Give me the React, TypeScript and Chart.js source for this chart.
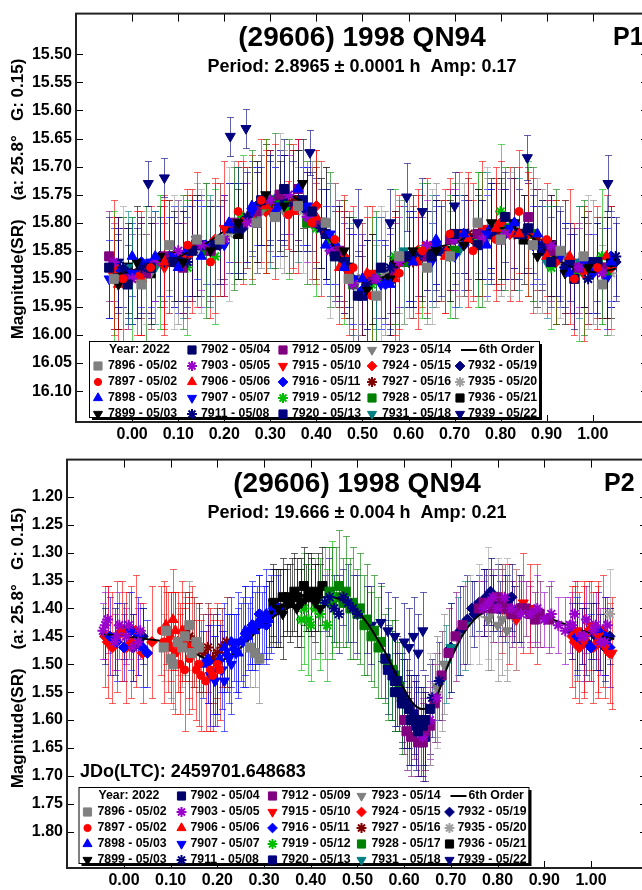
import React, { useEffect, useRef } from 'react';
import { Chart, registerables } from 'chart.js';
import { drawPoint } from 'chart.js/helpers';

Chart.register(...registerables);

const FONT = '"Liberation Sans", Arial, Helvetica, sans-serif';

const X_TICKS = [0.0, 0.1, 0.2, 0.3, 0.4, 0.5, 0.6, 0.7, 0.8, 0.9, 1.0];
const P1_Y_TICKS = [15.5, 15.55, 15.6, 15.65, 15.7, 15.75, 15.8, 15.85, 15.9, 15.95, 16.0, 16.05, 16.1];
const P2_Y_TICKS = [1.2, 1.25, 1.3, 1.35, 1.4, 1.45, 1.5, 1.55, 1.6, 1.65, 1.7, 1.75, 1.8];

const SESSION_LABELS = [
  '7896 - 05/02', '7897 - 05/02', '7898 - 05/03', '7899 - 05/03',
  '7902 - 05/04', '7903 - 05/05', '7906 - 05/06', '7907 - 05/07', '7911 - 05/08',
  '7912 - 05/09', '7915 - 05/10', '7916 - 05/11', '7919 - 05/12', '7920 - 05/13',
  '7923 - 05/14', '7924 - 05/15', '7927 - 05/16', '7928 - 05/17', '7931 - 05/18',
  '7932 - 05/19', '7935 - 05/20', '7936 - 05/21', '7939 - 05/22',
];
const SESSION_COLORS = [
  '#808080', '#ff0000', '#0000ff', '#000000',
  '#00006a', '#9900cc', '#ff0000', '#0000ff', '#000080',
  '#800080', '#ff0000', '#0000ff', '#00bb00', '#000080',
  '#808080', '#ff0000', '#800000', '#008000', '#008080',
  '#000080', '#a0a0a0', '#000000', '#000080',
];
// marker: rect, circle, tri (up), tdown, diamond, star
const SESSION_MARKERS = [
  'rect', 'circle', 'tri', 'tdown',
  'rect', 'star', 'tri', 'tdown', 'star',
  'rect', 'tdown', 'diamond', 'star', 'rect',
  'tdown', 'diamond', 'star', 'rect', 'tdown',
  'diamond', 'star', 'rect', 'tdown',
];

type Pt = [number, number, number]; // phase, magnitude, error

// ---------------- P1 (2.8965 h) ----------------
const P1_7896: Pt[] = [[-0.04, 15.9, 0.07], [0.08, 15.84, 0.08], [0.19, 15.83, 0.07], [0.27, 15.8, 0.09], [0.36, 15.77, 0.07], [0.47, 15.9, 0.08], [0.58, 15.86, 0.1], [0.69, 15.86, 0.08], [0.8, 15.83, 0.1], [0.93, 15.85, 0.08], [1.02, 15.91, 0.07], [0.02, 15.91, 0.09], [0.14, 15.83, 0.1], [0.31, 15.79, 0.09], [0.42, 15.8, 0.1], [0.53, 15.93, 0.09], [0.64, 15.88, 0.1], [0.75, 15.8, 0.09], [0.87, 15.84, 0.1], [0.98, 15.86, 0.09]];
const P1_7897: Pt[] = [[-0.02, 15.9, 0.09], [0.12, 15.84, 0.1], [0.23, 15.78, 0.09], [0.339, 15.786, 0.06], [0.44, 15.83, 0.1], [0.52, 15.93, 0.11], [0.63, 15.85, 0.1], [0.74, 15.85, 0.09], [0.84, 15.78, 0.11], [0.96, 15.9, 0.1], [0.04, 15.88, 0.11], [0.17, 15.87, 0.1], [0.28, 15.76, 0.11], [0.39, 15.8, 0.1], [0.48, 15.88, 0.11], [0.58, 15.89, 0.12], [0.69, 15.82, 0.1], [0.79, 15.83, 0.11], [0.9, 15.83, 0.1], [1.01, 15.88, 0.11]];
const P1_7898: Pt[] = [[0.0, 15.86, 0.07], [0.1, 15.88, 0.08], [0.21, 15.8, 0.07], [0.31, 15.78, 0.08], [0.42, 15.84, 0.07], [0.5, 15.9, 0.08], [0.61, 15.87, 0.08], [0.72, 15.82, 0.07], [0.83, 15.8, 0.08], [0.95, 15.89, 0.07], [1.04, 15.87, 0.08], [-0.04, 15.9, 0.09], [0.05, 15.86, 0.08], [0.15, 15.86, 0.09], [0.26, 15.77, 0.08], [0.36, 15.74, 0.09], [0.46, 15.88, 0.08], [0.56, 15.91, 0.09], [0.66, 15.83, 0.08], [0.77, 15.84, 0.09], [0.88, 15.82, 0.08]];
const P1_7899: Pt[] = [[-0.03, 15.91, 0.08], [0.06, 15.86, 0.09], [0.17, 15.85, 0.08], [0.29, 15.75, 0.09], [0.37, 15.73, 0.08], [0.46, 15.85, 0.09], [0.56, 15.9, 0.1], [0.66, 15.85, 0.09], [0.78, 15.8, 0.08], [0.88, 15.86, 0.09], [0.99, 15.88, 0.08], [0.01, 15.87, 0.1], [0.11, 15.87, 0.09], [0.23, 15.8, 0.1], [0.33, 15.77, 0.09], [0.42, 15.8, 0.1], [0.51, 15.92, 0.09], [0.61, 15.85, 0.1], [0.72, 15.84, 0.09], [0.83, 15.8, 0.1], [0.94, 15.89, 0.09], [1.04, 15.87, 0.1]];
const P1_7902: Pt[] = [[-0.01, 15.91, 0.07], [0.09, 15.87, 0.08], [0.18, 15.84, 0.07], [0.28, 15.76, 0.08], [0.39, 15.78, 0.07], [0.49, 15.93, 0.08], [0.6, 15.86, 0.08], [0.7, 15.82, 0.07], [0.81, 15.79, 0.08], [0.91, 15.87, 0.08], [1.01, 15.87, 0.07], [-0.05, 15.88, 0.09], [0.04, 15.88, 0.08], [0.13, 15.85, 0.09], [0.23, 15.81, 0.08], [0.33, 15.74, 0.09], [0.44, 15.86, 0.08], [0.54, 15.88, 0.09], [0.65, 15.86, 0.08], [0.75, 15.84, 0.09], [0.86, 15.81, 0.08], [0.96, 15.9, 0.09]];
const P1_7903: Pt[] = [[-0.04, 15.87, 0.07], [0.05, 15.87, 0.07], [0.15, 15.84, 0.08], [0.25, 15.8, 0.07], [0.34, 15.75, 0.07], [0.43, 15.85, 0.08], [0.53, 15.9, 0.07], [0.64, 15.84, 0.08], [0.76, 15.83, 0.07], [0.86, 15.81, 0.08], [0.97, 15.88, 0.07], [0.0, 15.9, 0.08], [0.1, 15.85, 0.09], [0.2, 15.83, 0.08], [0.3, 15.76, 0.09], [0.38, 15.79, 0.08], [0.48, 15.91, 0.09], [0.58, 15.87, 0.08], [0.7, 15.83, 0.09], [0.81, 15.82, 0.08], [0.91, 15.84, 0.09], [1.02, 15.89, 0.08]];
const P1_7906: Pt[] = [[0.02, 15.9, 0.1], [0.13, 15.85, 0.11], [0.24, 15.8, 0.1], [0.35, 15.78, 0.11], [0.45, 15.88, 0.1], [0.57, 15.9, 0.11], [0.68, 15.86, 0.1], [0.79, 15.81, 0.11], [0.9, 15.86, 0.1], [1.03, 15.86, 0.11], [-0.03, 15.91, 0.12], [0.07, 15.87, 0.12], [0.18, 15.84, 0.12], [0.29, 15.77, 0.12], [0.4, 15.79, 0.12], [0.51, 15.89, 0.12], [0.62, 15.87, 0.12], [0.73, 15.83, 0.12], [0.84, 15.82, 0.12], [0.95, 15.86, 0.12]];
const P1_7907: Pt[] = [[-0.05, 15.9, 0.07], [0.04, 15.87, 0.08], [0.14, 15.83, 0.07], [0.26, 15.78, 0.08], [0.38, 15.77, 0.07], [0.48, 15.9, 0.08], [0.54, 15.91, 0.08], [0.65, 15.87, 0.07], [0.77, 15.82, 0.08], [0.87, 15.84, 0.07], [0.98, 15.87, 0.08], [0.0, 15.89, 0.09], [0.09, 15.86, 0.09], [0.2, 15.84, 0.09], [0.32, 15.77, 0.09], [0.43, 15.82, 0.09], [0.59, 15.86, 0.09], [0.7, 15.86, 0.09], [0.82, 15.81, 0.09], [0.93, 15.86, 0.09], [1.03, 15.9, 0.09]];
const P1_7911: Pt[] = [[-0.02, 15.88, 0.07], [0.07, 15.87, 0.07], [0.2, 15.83, 0.07], [0.3, 15.76, 0.07], [0.41, 15.81, 0.07], [0.51, 15.91, 0.08], [0.62, 15.86, 0.07], [0.73, 15.83, 0.07], [0.85, 15.82, 0.07], [0.94, 15.88, 0.07], [1.05, 15.86, 0.07], [0.02, 15.88, 0.08], [0.12, 15.87, 0.08], [0.25, 15.79, 0.08], [0.35, 15.77, 0.08], [0.46, 15.87, 0.08], [0.56, 15.88, 0.08], [0.67, 15.85, 0.08], [0.78, 15.82, 0.08], [0.89, 15.84, 0.08], [0.99, 15.9, 0.08]];
const P1_7912: Pt[] = [[-0.05, 15.86, 0.08], [0.03, 15.89, 0.07], [0.11, 15.88, 0.08], [0.22, 15.8, 0.07], [0.32, 15.75, 0.08], [0.4, 15.8, 0.07], [0.52, 15.9, 0.08], [0.63, 15.86, 0.07], [0.75, 15.82, 0.08], [0.86, 15.79, 0.09], [0.97, 15.88, 0.08], [-0.01, 15.9, 0.09], [0.07, 15.86, 0.09], [0.17, 15.85, 0.09], [0.27, 15.78, 0.09], [0.36, 15.74, 0.09], [0.45, 15.85, 0.09], [0.57, 15.89, 0.09], [0.69, 15.83, 0.09], [0.8, 15.83, 0.09], [0.91, 15.85, 0.09], [1.02, 15.88, 0.09]];
const P1_7915: Pt[] = [[0.01, 15.89, 0.11], [0.14, 15.83, 0.12], [0.26, 15.79, 0.11], [0.36, 15.77, 0.12], [0.47, 15.89, 0.11], [0.58, 15.87, 0.12], [0.71, 15.82, 0.11], [0.82, 15.82, 0.12], [0.92, 15.87, 0.11], [-0.04, 15.88, 0.12], [0.07, 15.88, 0.12], [0.2, 15.81, 0.12], [0.31, 15.78, 0.12], [0.41, 15.81, 0.12], [0.52, 15.89, 0.12], [0.64, 15.84, 0.12], [0.76, 15.81, 0.12], [0.87, 15.84, 0.12], [0.98, 15.89, 0.12]];
const P1_7916: Pt[] = [[-0.03, 15.88, 0.07], [0.08, 15.86, 0.07], [0.16, 15.84, 0.07], [0.27, 15.77, 0.07], [0.37, 15.77, 0.07], [0.44, 15.84, 0.07], [0.55, 15.91, 0.07], [0.66, 15.84, 0.07], [0.78, 15.81, 0.07], [0.89, 15.84, 0.07], [1.0, 15.89, 0.07], [0.02, 15.87, 0.08], [0.12, 15.85, 0.08], [0.22, 15.81, 0.08], [0.32, 15.75, 0.08], [0.4, 15.8, 0.08], [0.5, 15.92, 0.08], [0.6, 15.86, 0.08], [0.72, 15.84, 0.08], [0.83, 15.8, 0.08], [0.94, 15.88, 0.08], [1.04, 15.86, 0.08]];
const P1_7919: Pt[] = [[0.0, 15.9, 0.11], [0.12, 15.88, 0.12], [0.24, 15.79, 0.11], [0.34, 15.78, 0.12], [0.46, 15.87, 0.11], [0.57, 15.86, 0.12], [0.69, 15.86, 0.11], [0.8, 15.78, 0.12], [0.91, 15.88, 0.11], [1.02, 15.86, 0.12], [-0.04, 15.9, 0.12], [0.06, 15.87, 0.12], [0.18, 15.86, 0.12], [0.29, 15.77, 0.12], [0.4, 15.81, 0.12], [0.52, 15.91, 0.12], [0.63, 15.85, 0.12], [0.75, 15.83, 0.12], [0.86, 15.81, 0.12], [0.97, 15.89, 0.12]];
const P1_7920: Pt[] = [[-0.01, 15.89, 0.08], [0.1, 15.87, 0.07], [0.21, 15.81, 0.08], [0.33, 15.75, 0.07], [0.42, 15.82, 0.08], [0.5, 15.93, 0.07], [0.61, 15.86, 0.08], [0.72, 15.82, 0.07], [0.84, 15.82, 0.08], [0.95, 15.87, 0.07], [1.04, 15.87, 0.08], [0.04, 15.88, 0.09], [0.15, 15.84, 0.09], [0.27, 15.8, 0.09], [0.37, 15.76, 0.09], [0.46, 15.87, 0.09], [0.56, 15.9, 0.09], [0.66, 15.85, 0.09], [0.78, 15.82, 0.09], [0.89, 15.85, 0.09], [0.99, 15.87, 0.09]];
const P1_7923: Pt[] = [[0.04, 15.89, 0.1], [0.16, 15.84, 0.11], [0.28, 15.78, 0.1], [0.39, 15.8, 0.11], [0.49, 15.9, 0.1], [0.6, 15.86, 0.11], [0.72, 15.83, 0.1], [0.83, 15.81, 0.11], [0.94, 15.86, 0.1], [-0.02, 15.9, 0.11], [0.1, 15.87, 0.11], [0.22, 15.8, 0.11], [0.33, 15.78, 0.11], [0.44, 15.84, 0.11], [0.55, 15.89, 0.11], [0.66, 15.84, 0.11], [0.77, 15.83, 0.11], [0.89, 15.85, 0.11], [1.0, 15.87, 0.11]];
const P1_7924: Pt[] = [[-0.04, 15.89, 0.1], [0.07, 15.87, 0.11], [0.18, 15.83, 0.1], [0.29, 15.78, 0.11], [0.4, 15.77, 0.1], [0.51, 15.9, 0.11], [0.62, 15.85, 0.11], [0.74, 15.83, 0.1], [0.86, 15.82, 0.11], [0.99, 15.88, 0.1], [0.02, 15.89, 0.11], [0.12, 15.86, 0.11], [0.24, 15.8, 0.11], [0.35, 15.77, 0.11], [0.46, 15.86, 0.11], [0.57, 15.89, 0.11], [0.68, 15.85, 0.11], [0.8, 15.8, 0.11], [0.92, 15.87, 0.11], [1.04, 15.88, 0.11]];
const P1_7927: Pt[] = [[0.02, 15.88, 0.09], [0.13, 15.84, 0.09], [0.25, 15.79, 0.09], [0.35, 15.76, 0.09], [0.45, 15.86, 0.09], [0.56, 15.89, 0.09], [0.67, 15.85, 0.09], [0.79, 15.82, 0.09], [0.88, 15.83, 0.09], [1.01, 15.88, 0.09], [-0.03, 15.89, 0.1], [0.08, 15.86, 0.1], [0.19, 15.83, 0.1], [0.3, 15.77, 0.1], [0.4, 15.8, 0.1], [0.5, 15.9, 0.1], [0.61, 15.87, 0.1], [0.73, 15.82, 0.1], [0.83, 15.82, 0.1], [0.94, 15.86, 0.1]];
const P1_7928: Pt[] = [[-0.02, 15.9, 0.11], [0.11, 15.87, 0.12], [0.22, 15.81, 0.11], [0.31, 15.76, 0.12], [0.38, 15.8, 0.11], [0.48, 15.91, 0.12], [0.59, 15.87, 0.11], [0.7, 15.85, 0.12], [0.81, 15.81, 0.11], [0.92, 15.86, 0.12], [1.03, 15.89, 0.11], [0.03, 15.89, 0.12], [0.16, 15.85, 0.12], [0.26, 15.79, 0.12], [0.34, 15.77, 0.12], [0.43, 15.83, 0.12], [0.53, 15.9, 0.12], [0.64, 15.85, 0.12], [0.76, 15.83, 0.12], [0.87, 15.82, 0.12], [0.98, 15.88, 0.12]];
const P1_7931: Pt[] = [[0.05, 15.88, 0.1], [0.17, 15.85, 0.1], [0.3, 15.78, 0.1], [0.43, 15.83, 0.1], [0.53, 15.89, 0.1], [0.65, 15.85, 0.1], [0.77, 15.81, 0.1], [0.9, 15.87, 0.1], [-0.01, 15.88, 0.1], [0.11, 15.87, 0.1], [0.23, 15.8, 0.1], [0.36, 15.77, 0.1], [0.48, 15.9, 0.1], [0.59, 15.85, 0.1], [0.71, 15.85, 0.1], [0.84, 15.82, 0.1], [0.97, 15.87, 0.1]];
const P1_7932: Pt[] = [[-0.03, 15.89, 0.07], [0.06, 15.86, 0.07], [0.19, 15.84, 0.07], [0.28, 15.77, 0.07], [0.38, 15.78, 0.07], [0.47, 15.88, 0.07], [0.55, 15.9, 0.07], [0.64, 15.85, 0.07], [0.76, 15.83, 0.07], [0.87, 15.82, 0.07], [0.96, 15.89, 0.07], [1.05, 15.87, 0.07], [0.01, 15.89, 0.08], [0.11, 15.86, 0.08], [0.24, 15.81, 0.08], [0.33, 15.76, 0.08], [0.42, 15.82, 0.08], [0.51, 15.91, 0.08], [0.6, 15.87, 0.08], [0.7, 15.83, 0.08], [0.81, 15.82, 0.08], [0.92, 15.85, 0.08], [1.01, 15.88, 0.08]];
const P1_7935: Pt[] = [[0.03, 15.88, 0.1], [0.15, 15.85, 0.11], [0.27, 15.79, 0.1], [0.37, 15.78, 0.11], [0.49, 15.9, 0.1], [0.59, 15.87, 0.11], [0.71, 15.83, 0.1], [0.82, 15.82, 0.11], [0.93, 15.87, 0.1], [1.04, 15.89, 0.11], [-0.02, 15.89, 0.12], [0.09, 15.87, 0.12], [0.21, 15.82, 0.12], [0.32, 15.76, 0.12], [0.43, 15.85, 0.12], [0.54, 15.89, 0.12], [0.65, 15.86, 0.12], [0.77, 15.82, 0.12], [0.88, 15.84, 0.12], [0.99, 15.87, 0.12]];
const P1_7936: Pt[] = [[-0.01, 15.88, 0.08], [0.09, 15.86, 0.08], [0.23, 15.82, 0.08], [0.32, 15.77, 0.08], [0.41, 15.8, 0.08], [0.52, 15.9, 0.08], [0.63, 15.86, 0.08], [0.75, 15.82, 0.08], [0.85, 15.83, 0.08], [0.98, 15.87, 0.08], [0.04, 15.89, 0.09], [0.14, 15.84, 0.09], [0.27, 15.78, 0.09], [0.36, 15.76, 0.09], [0.47, 15.88, 0.09], [0.57, 15.87, 0.09], [0.69, 15.85, 0.09], [0.8, 15.81, 0.09], [0.91, 15.84, 0.09], [1.03, 15.88, 0.09]];
const P1_7939: Pt[] = [[0.035, 15.73, 0.04], [0.07, 15.72, 0.035], [0.213, 15.646, 0.035], [0.247, 15.632, 0.035], [0.386, 15.675, 0.04], [0.49, 15.8, 0.06], [0.56, 15.8, 0.06], [0.596, 15.754, 0.06], [0.63, 15.78, 0.06], [0.7, 15.77, 0.06], [0.858, 15.684, 0.04], [1.033, 15.73, 0.05], [-0.03, 15.87, 0.08], [0.13, 15.85, 0.08], [0.3, 15.76, 0.08], [0.45, 15.85, 0.08], [0.66, 15.84, 0.08], [0.78, 15.81, 0.08], [0.93, 15.86, 0.08]];

const P1_FIT_PHASE = [-0.05, 0.0, 0.05, 0.1, 0.15, 0.2, 0.25, 0.3, 0.35, 0.4, 0.45, 0.5, 0.55, 0.6, 0.65, 0.7, 0.75, 0.8, 0.85, 0.9, 0.95, 1.0, 1.05];
const P1_FIT_MAG = [15.895, 15.885, 15.872, 15.86, 15.842, 15.815, 15.785, 15.762, 15.755, 15.785, 15.86, 15.905, 15.895, 15.865, 15.848, 15.835, 15.82, 15.81, 15.815, 15.85, 15.878, 15.888, 15.882];

// ---------------- P2 (19.666 h) ----------------
const P2_7896: Pt[] = [[0.085, 1.47, 0.06], [0.1, 1.49, 0.07], [0.115, 1.46, 0.06], [0.13, 1.45, 0.07], [0.145, 1.48, 0.06], [0.16, 1.47, 0.07], [0.28, 1.48, 0.06], [0.09, 1.44, 0.07], [0.105, 1.5, 0.08], [0.125, 1.47, 0.07], [0.14, 1.43, 0.08], [0.155, 1.46, 0.07], [0.27, 1.47, 0.07], [0.29, 1.49, 0.08]];
const P2_7897: Pt[] = [[0.08, 1.44, 0.08], [0.1, 1.47, 0.1], [0.12, 1.5, 0.09], [0.14, 1.49, 0.1], [0.155, 1.51, 0.09], [0.165, 1.52, 0.1], [0.175, 1.53, 0.09], [0.19, 1.52, 0.1], [0.205, 1.51, 0.09], [0.085, 1.46, 0.11], [0.11, 1.48, 0.11], [0.13, 1.51, 0.11], [0.145, 1.47, 0.11], [0.16, 1.5, 0.11], [0.185, 1.51, 0.11], [0.2, 1.5, 0.11]];
const P2_7898: Pt[] = [[0.17, 1.5, 0.06], [0.19, 1.52, 0.07], [0.205, 1.49, 0.06], [0.22, 1.48, 0.07], [0.235, 1.47, 0.06], [0.25, 1.46, 0.07], [0.265, 1.45, 0.06], [0.28, 1.44, 0.07], [0.295, 1.43, 0.06], [0.31, 1.42, 0.07], [0.18, 1.49, 0.08], [0.2, 1.51, 0.08], [0.215, 1.47, 0.08], [0.23, 1.46, 0.08], [0.245, 1.48, 0.08], [0.26, 1.44, 0.08], [0.275, 1.43, 0.08], [0.29, 1.42, 0.08], [0.305, 1.41, 0.08]];
const P2_7899: Pt[] = [[0.31, 1.41, 0.06], [0.33, 1.4, 0.07], [0.35, 1.39, 0.06], [0.37, 1.4, 0.07], [0.39, 1.38, 0.06], [0.41, 1.39, 0.07], [0.32, 1.39, 0.07], [0.34, 1.41, 0.08], [0.36, 1.38, 0.07], [0.38, 1.39, 0.08], [0.4, 1.37, 0.07], [0.42, 1.4, 0.08]];
const P2_7902: Pt[] = [[0.58, 1.55, 0.07], [0.595, 1.56, 0.08], [0.61, 1.58, 0.07], [0.625, 1.6, 0.08], [0.64, 1.61, 0.07], [0.655, 1.58, 0.08], [0.585, 1.53, 0.08], [0.6, 1.57, 0.08], [0.615, 1.6, 0.08], [0.63, 1.62, 0.08], [0.645, 1.6, 0.08]];
const P2_7903: Pt[] = [[-0.045, 1.44, 0.05], [-0.035, 1.42, 0.06], [-0.02, 1.46, 0.05], [-0.01, 1.43, 0.06], [0.005, 1.45, 0.05], [0.02, 1.47, 0.06], [0.035, 1.44, 0.05], [0.77, 1.4, 0.05], [0.79, 1.38, 0.05], [0.83, 1.4, 0.05], [0.87, 1.41, 0.05], [0.9, 1.42, 0.05], [0.93, 1.43, 0.05], [0.955, 1.43, 0.05], [0.965, 1.41, 0.06], [0.98, 1.45, 0.05], [0.99, 1.42, 0.06], [1.005, 1.44, 0.05], [1.02, 1.46, 0.06], [1.035, 1.43, 0.05],
  [0.78, 1.39, 0.06], [0.8, 1.4, 0.06], [0.815, 1.38, 0.06], [0.85, 1.41, 0.06], [0.885, 1.4, 0.06], [0.915, 1.41, 0.06], [0.945, 1.44, 0.06], [-0.04, 1.43, 0.06], [-0.015, 1.45, 0.06], [0.01, 1.43, 0.06], [0.03, 1.46, 0.06], [0.96, 1.43, 0.06], [0.985, 1.45, 0.06], [1.01, 1.43, 0.06], [1.03, 1.46, 0.06], [0.64, 1.63, 0.07], [0.655, 1.6, 0.07], [0.67, 1.56, 0.08]];
const P2_7906: Pt[] = [[0.09, 1.43, 0.07], [0.1, 1.45, 0.08], [0.11, 1.44, 0.07], [0.12, 1.47, 0.08], [0.13, 1.46, 0.07], [0.095, 1.46, 0.09], [0.105, 1.42, 0.09], [0.115, 1.46, 0.09], [0.125, 1.44, 0.09], [0.14, 1.47, 0.09]];
const P2_7907: Pt[] = [[0.18, 1.5, 0.07], [0.195, 1.53, 0.08], [0.21, 1.51, 0.07], [0.225, 1.49, 0.08], [0.24, 1.48, 0.07], [0.255, 1.46, 0.08], [0.185, 1.52, 0.09], [0.2, 1.5, 0.09], [0.215, 1.53, 0.09], [0.23, 1.5, 0.09], [0.245, 1.46, 0.09], [0.26, 1.45, 0.09]];
const P2_7911: Pt[] = [[0.43, 1.39, 0.05], [0.45, 1.4, 0.06], [0.47, 1.38, 0.05], [0.49, 1.4, 0.06], [0.44, 1.38, 0.07], [0.46, 1.41, 0.07], [0.48, 1.39, 0.07], [0.5, 1.41, 0.07], [0.66, 1.56, 0.07], [0.675, 1.53, 0.07]];
const P2_7912: Pt[] = [[0.6, 1.6, 0.06], [0.615, 1.63, 0.07], [0.63, 1.64, 0.06], [0.645, 1.62, 0.07], [0.76, 1.4, 0.05], [0.78, 1.39, 0.05], [0.8, 1.38, 0.05], [0.82, 1.4, 0.05], [0.84, 1.41, 0.05], [0.86, 1.4, 0.05], [0.88, 1.42, 0.05],
  [0.605, 1.62, 0.07], [0.62, 1.6, 0.07], [0.64, 1.64, 0.07], [0.655, 1.61, 0.07], [0.77, 1.39, 0.06], [0.79, 1.4, 0.06], [0.81, 1.39, 0.06], [0.83, 1.41, 0.06], [0.85, 1.4, 0.06], [0.87, 1.41, 0.06], [0.89, 1.41, 0.06], [0.91, 1.42, 0.06],
  [0.665, 1.57, 0.07], [0.68, 1.52, 0.08], [0.695, 1.48, 0.08], [0.71, 1.45, 0.08], [0.725, 1.43, 0.07]];
const P2_7915: Pt[] = [[0.81, 1.4, 0.08], [0.84, 1.42, 0.09], [0.87, 1.4, 0.08], [0.97, 1.44, 0.09], [1.0, 1.43, 0.08], [1.03, 1.47, 0.09], [0.825, 1.41, 0.09], [0.855, 1.39, 0.09], [0.885, 1.41, 0.09], [0.985, 1.46, 0.1], [1.015, 1.45, 0.1], [1.045, 1.48, 0.1]];
const P2_7916: Pt[] = [[-0.03, 1.45, 0.07], [0.0, 1.47, 0.06], [0.03, 1.45, 0.07], [0.05, 1.48, 0.06], [0.27, 1.44, 0.06], [0.285, 1.43, 0.07], [0.3, 1.42, 0.06], [0.315, 1.41, 0.07], [0.33, 1.4, 0.06], [0.97, 1.45, 0.07], [1.0, 1.47, 0.06], [1.03, 1.45, 0.07],
  [-0.015, 1.46, 0.07], [0.015, 1.44, 0.07], [0.04, 1.47, 0.07], [0.275, 1.43, 0.07], [0.29, 1.41, 0.07], [0.305, 1.43, 0.07], [0.32, 1.4, 0.07], [0.985, 1.46, 0.07], [1.015, 1.44, 0.07], [1.04, 1.47, 0.07]];
const P2_7919: Pt[] = [[0.38, 1.42, 0.09], [0.4, 1.43, 0.1], [0.41, 1.4, 0.09], [0.43, 1.39, 0.1], [0.385, 1.4, 0.1], [0.395, 1.42, 0.1], [0.42, 1.41, 0.1], [0.435, 1.43, 0.1], [0.445, 1.38, 0.1]];
const P2_7920: Pt[] = [[0.56, 1.49, 0.07], [0.575, 1.52, 0.08], [0.59, 1.55, 0.07], [0.605, 1.57, 0.08], [0.62, 1.59, 0.07], [0.635, 1.62, 0.08], [0.565, 1.51, 0.08], [0.58, 1.53, 0.08], [0.595, 1.57, 0.08], [0.61, 1.6, 0.08], [0.625, 1.61, 0.08], [0.645, 1.63, 0.08]];
const P2_7923: Pt[] = [[0.665, 1.56, 0.08], [0.68, 1.53, 0.09], [0.78, 1.42, 0.09], [0.8, 1.43, 0.1], [0.67, 1.54, 0.09], [0.685, 1.5, 0.09], [0.785, 1.41, 0.1], [0.81, 1.42, 0.1], [0.82, 1.44, 0.09]];
const P2_7924: Pt[] = [[-0.04, 1.45, 0.09], [-0.025, 1.47, 0.1], [-0.005, 1.44, 0.09], [0.015, 1.46, 0.1], [0.04, 1.48, 0.09], [0.96, 1.45, 0.09], [0.975, 1.47, 0.1], [0.995, 1.44, 0.09], [1.015, 1.46, 0.1], [1.04, 1.48, 0.09],
  [-0.035, 1.46, 0.1], [-0.015, 1.45, 0.1], [0.005, 1.47, 0.1], [0.025, 1.44, 0.1], [0.965, 1.46, 0.1], [0.985, 1.45, 0.1], [1.005, 1.47, 0.1], [1.025, 1.44, 0.1], [0.06, 1.46, 0.1]];
const P2_7927: Pt[] = [[0.13, 1.44, 0.07], [0.15, 1.46, 0.08], [0.17, 1.48, 0.07], [0.19, 1.49, 0.08], [0.21, 1.47, 0.07], [0.14, 1.45, 0.08], [0.16, 1.47, 0.08], [0.18, 1.47, 0.08], [0.2, 1.48, 0.08], [0.22, 1.46, 0.08]];
const P2_7928: Pt[] = [[0.44, 1.37, 0.08], [0.455, 1.38, 0.09], [0.47, 1.39, 0.08], [0.485, 1.4, 0.09], [0.5, 1.41, 0.08], [0.515, 1.43, 0.09], [0.53, 1.45, 0.08], [0.545, 1.47, 0.09], [0.56, 1.49, 0.08], [0.575, 1.51, 0.09], [0.59, 1.54, 0.08],
  [0.445, 1.39, 0.1], [0.46, 1.36, 0.1], [0.475, 1.37, 0.1], [0.49, 1.39, 0.1], [0.505, 1.4, 0.1], [0.52, 1.42, 0.1], [0.535, 1.44, 0.1], [0.55, 1.46, 0.1], [0.565, 1.5, 0.1], [0.58, 1.52, 0.1], [0.595, 1.56, 0.1]];
const P2_7931: Pt[] = [[0.69, 1.5, 0.07], [0.7, 1.47, 0.08], [0.715, 1.45, 0.07], [0.73, 1.43, 0.08]];
const P2_7932: Pt[] = [[-0.04, 1.45, 0.05], [0.0, 1.44, 0.05], [0.04, 1.45, 0.05], [0.745, 1.4, 0.05], [0.76, 1.39, 0.05], [0.775, 1.38, 0.05], [0.79, 1.39, 0.05], [0.805, 1.4, 0.05], [0.82, 1.39, 0.05], [0.835, 1.41, 0.05], [0.96, 1.44, 0.05], [0.98, 1.45, 0.05], [1.0, 1.44, 0.05], [1.02, 1.46, 0.05], [1.04, 1.45, 0.05],
  [0.75, 1.41, 0.06], [0.77, 1.39, 0.06], [0.785, 1.37, 0.06], [0.8, 1.38, 0.06], [0.815, 1.4, 0.06], [0.83, 1.38, 0.06], [0.845, 1.4, 0.06], [-0.02, 1.46, 0.06], [0.02, 1.47, 0.06], [0.97, 1.45, 0.06], [0.99, 1.46, 0.06], [1.01, 1.45, 0.06], [1.03, 1.47, 0.06],
  [0.7, 1.47, 0.08], [0.72, 1.44, 0.08], [0.735, 1.42, 0.08]];
const P2_7935: Pt[] = [[0.655, 1.58, 0.1], [0.67, 1.55, 0.1], [0.74, 1.42, 0.08], [0.76, 1.41, 0.09], [0.78, 1.39, 0.1], [0.8, 1.4, 0.09], [0.82, 1.41, 0.1], [0.84, 1.42, 0.09], [1.04, 1.41, 0.08]];
const P2_7936: Pt[] = [[0.32, 1.39, 0.06], [0.335, 1.4, 0.07], [0.35, 1.38, 0.06], [0.365, 1.37, 0.07], [0.38, 1.39, 0.06], [0.395, 1.37, 0.07], [0.41, 1.38, 0.06], [0.425, 1.36, 0.07], [0.325, 1.4, 0.07], [0.34, 1.38, 0.07], [0.355, 1.39, 0.07], [0.37, 1.38, 0.07], [0.385, 1.36, 0.07], [0.4, 1.38, 0.07], [0.415, 1.37, 0.07]];
const P2_7939: Pt[] = [[0.52, 1.42, 0.06], [0.55, 1.425, 0.07], [0.58, 1.45, 0.07], [0.6, 1.46, 0.07], [0.63, 1.48, 0.07], [0.64, 1.44, 0.07], [0.53, 1.43, 0.07], [0.565, 1.44, 0.07], [0.61, 1.47, 0.07], [0.62, 1.45, 0.07]];

const P2_FIT_PHASE = [-0.05, 0.0, 0.05, 0.1, 0.15, 0.2, 0.25, 0.3, 0.35, 0.4, 0.45, 0.5, 0.55, 0.6, 0.63, 0.66, 0.7, 0.75, 0.8, 0.85, 0.9, 0.95, 1.0, 1.05];
const P2_FIT_MAG = [1.445, 1.45, 1.455, 1.462, 1.48, 1.495, 1.47, 1.428, 1.4, 1.385, 1.38, 1.405, 1.465, 1.545, 1.578, 1.572, 1.49, 1.42, 1.4, 1.405, 1.415, 1.43, 1.445, 1.455];

const P1_SESSIONS = [P1_7896, P1_7897, P1_7898, P1_7899, P1_7902, P1_7903, P1_7906, P1_7907, P1_7911, P1_7912, P1_7915, P1_7916, P1_7919, P1_7920, P1_7923, P1_7924, P1_7927, P1_7928, P1_7931, P1_7932, P1_7935, P1_7936, P1_7939];
const P2_SESSIONS = [P2_7896, P2_7897, P2_7898, P2_7899, P2_7902, P2_7903, P2_7906, P2_7907, P2_7911, P2_7912, P2_7915, P2_7916, P2_7919, P2_7920, P2_7923, P2_7924, P2_7927, P2_7928, P2_7931, P2_7932, P2_7935, P2_7936, P2_7939];

interface PanelCfg {
  sessions: Pt[][];
  fitPhase: number[];
  fitMag: number[];
  yMin: number;
  yMax: number;
  yTicks: number[];
  canvasH: number;
  chartLeft: number;
  chartRight: number;
  chartTop: number;
  chartBottom: number;
  legendLeft: number;
  yTitleCenter: number;
  title: string;
  subtitle: string;
  tag: string;
  jdo?: string;
}

const CANVAS_W = 660;

function markerOpts(m: string) {
  switch (m) {
    case 'rect': return { pointStyle: 'rect', rotation: 0, radius: 6.4, borderWidth: 1 };
    case 'circle': return { pointStyle: 'circle', rotation: 0, radius: 4, borderWidth: 1 };
    case 'tri': return { pointStyle: 'triangle', rotation: 0, radius: 5.8, borderWidth: 1 };
    case 'tdown': return { pointStyle: 'triangle', rotation: 180, radius: 5.8, borderWidth: 1 };
    case 'diamond': return { pointStyle: 'rectRot', rotation: 0, radius: 5.4, borderWidth: 1 };
    default: return { pointStyle: 'star', rotation: 0, radius: 5.5, borderWidth: 2 };
  }
}

const errorBarsPlugin = {
  id: 'errorBars',
  beforeDatasetsDraw(chart: any) {
    const { ctx, chartArea, scales } = chart;
    const xs = scales.x;
    const ys = scales.y;
    ctx.save();
    ctx.beginPath();
    ctx.rect(chartArea.left, chartArea.top, chartArea.right - chartArea.left, chartArea.bottom - chartArea.top);
    ctx.clip();
    ctx.lineWidth = 1;
    ctx.globalAlpha = 0.62;
    chart.data.datasets.forEach((ds: any) => {
      if (!ds.errs) return;
      ctx.strokeStyle = ds.errColor;
      ds.data.forEach((d: any, j: number) => {
        const px = Math.round(xs.getPixelForValue(d.x)) + 0.5;
        const y1 = Math.round(ys.getPixelForValue(d.y - ds.errs[j])) + 0.5;
        const y2 = Math.round(ys.getPixelForValue(d.y + ds.errs[j])) + 0.5;
        ctx.beginPath();
        ctx.moveTo(px, y1); ctx.lineTo(px, y2);
        ctx.moveTo(px - 3.5, y1); ctx.lineTo(px + 3.5, y1);
        ctx.moveTo(px - 3.5, y2); ctx.lineTo(px + 3.5, y2);
        ctx.stroke();
      });
    });
    ctx.restore();
  },
};

function legendSlot(i: number): [number, number] {
  if (i < 4) return [0, i + 1];
  if (i < 9) return [1, i - 4];
  if (i < 14) return [2, i - 9];
  if (i < 19) return [3, i - 14];
  return [4, i - 18];
}

const LEG_MARK_X = [9, 103, 194, 283, 371];
const LEG_TEXT_X = [19, 112, 203, 293, 379];

function makeDecorPlugin(p: PanelCfg) {
  return {
    id: 'decor',
    afterDraw(chart: any) {
      const { ctx, chartArea, scales } = chart;
      const xs = scales.x;
      const ys = scales.y;
      const L = chartArea.left, R = chartArea.right, T = chartArea.top, B = chartArea.bottom;
      ctx.save();
      ctx.strokeStyle = '#000';
      ctx.lineWidth = 1;
      ctx.beginPath();
      X_TICKS.forEach((v) => {
        const px = Math.round(xs.getPixelForValue(v)) + 0.5;
        ctx.moveTo(px, T); ctx.lineTo(px, T + 8);
        ctx.moveTo(px, B); ctx.lineTo(px, B - 7);
      });
      p.yTicks.forEach((v) => {
        const py = Math.round(ys.getPixelForValue(v)) + 0.5;
        ctx.moveTo(L, py); ctx.lineTo(L + 7, py);
        ctx.moveTo(R, py); ctx.lineTo(R - 7, py);
      });
      ctx.stroke();
      ctx.lineWidth = 2;
      ctx.strokeStyle = '#222';
      ctx.strokeRect(L, T, R - L, B - T);

      ctx.fillStyle = '#000';
      ctx.textBaseline = 'alphabetic';
      ctx.textAlign = 'center';
      ctx.font = `bold 28px ${FONT}`;
      ctx.fillText(p.title, (L + R) / 2, 46);
      ctx.font = `bold 18px ${FONT}`;
      ctx.fillText(p.subtitle, (L + R) / 2, 72);
      ctx.textAlign = 'left';
      ctx.font = `bold 25px ${FONT}`;
      ctx.fillText(p.tag, L + 537, 45);
      if (p.jdo) {
        ctx.font = `bold 18px ${FONT}`;
        ctx.fillText(p.jdo, L + 13, 331);
      }
      ctx.save();
      ctx.translate(23, p.yTitleCenter);
      ctx.rotate(-Math.PI / 2);
      ctx.textAlign = 'center';
      ctx.font = `bold 17px ${FONT}`;
      ctx.fillText('Magnitude(SR)    (a: 25.8°   G: 0.15)', 0, 0);
      ctx.restore();

      const LX = p.legendLeft, LY = 341, LW = 450, LH = 76;
      ctx.fillStyle = '#000';
      ctx.fillRect(LX + 3, LY + 3, LW, LH);
      ctx.fillStyle = '#fff';
      ctx.fillRect(LX, LY, LW, LH);
      ctx.lineWidth = 1;
      ctx.strokeStyle = '#000';
      ctx.strokeRect(LX + 0.5, LY + 0.5, LW, LH);
      const rowY = (r: number) => LY + 9 + r * 16;
      ctx.font = `bold 12.3px ${FONT}`;
      ctx.textBaseline = 'middle';
      ctx.textAlign = 'left';
      ctx.fillStyle = '#000';
      ctx.fillText('Year: 2022', LX + 20, rowY(0));
      ctx.lineWidth = 2;
      ctx.beginPath();
      ctx.moveTo(LX + 372, rowY(0)); ctx.lineTo(LX + 388, rowY(0));
      ctx.stroke();
      ctx.fillText('6th Order', LX + 390, rowY(0));
      SESSION_LABELS.forEach((lab, i) => {
        const [c, r] = legendSlot(i);
        const m = markerOpts(SESSION_MARKERS[i]);
        ctx.fillStyle = SESSION_COLORS[i];
        ctx.strokeStyle = SESSION_COLORS[i];
        ctx.lineWidth = m.borderWidth;
        drawPoint(ctx, { pointStyle: m.pointStyle, rotation: m.rotation, radius: m.radius * 0.9, borderWidth: m.borderWidth } as any, LX + LEG_MARK_X[c], rowY(r));
        ctx.fillStyle = '#000';
        ctx.fillText(lab, LX + LEG_TEXT_X[c], rowY(r));
      });
      ctx.restore();
    },
  };
}

function makeConfig(p: PanelCfg): any {
  const sessionSets = p.sessions.map((pts, i) => {
    const m = markerOpts(SESSION_MARKERS[i]);
    return {
      label: SESSION_LABELS[i],
      data: pts.map((q) => ({ x: q[0], y: q[1] })),
      errs: pts.map((q) => q[2]),
      errColor: SESSION_COLORS[i],
      showLine: false,
      pointStyle: m.pointStyle,
      pointRotation: m.rotation,
      pointRadius: m.radius,
      pointHoverRadius: m.radius,
      pointBorderWidth: m.borderWidth,
      pointBackgroundColor: SESSION_COLORS[i],
      pointBorderColor: SESSION_COLORS[i],
    };
  });
  const fitSet = {
    label: '6th Order',
    data: p.fitPhase.map((ph, i) => ({ x: ph, y: p.fitMag[i] })),
    showLine: true,
    borderColor: '#000',
    borderWidth: 2,
    pointRadius: 0,
    tension: 0.4,
    fill: false,
  };
  const datasets: any[] = [...sessionSets.slice(0, 11), fitSet, ...sessionSets.slice(11)];
  return {
    type: 'scatter',
    data: { datasets },
    options: {
      animation: false,
      responsive: false,
      devicePixelRatio: 1,
      events: [],
      layout: { padding: { top: p.chartTop, right: CANVAS_W - p.chartRight, left: 0, bottom: 0 } },
      plugins: { legend: { display: false }, tooltip: { enabled: false }, title: { display: false } },
      scales: {
        x: {
          type: 'linear',
          min: -0.122,
          max: 1.12,
          grid: { display: false, drawTicks: false },
          border: { display: false },
          afterBuildTicks: (s: any) => { s.ticks = X_TICKS.map((v) => ({ value: v })); },
          afterFit: (s: any) => { s.height = p.canvasH - p.chartBottom; },
          ticks: {
            autoSkip: false,
            maxRotation: 0,
            padding: 3,
            color: '#000',
            font: { family: FONT, size: 16, weight: 'bold' },
            callback: (v: any) => Number(v).toFixed(2),
          },
        },
        y: {
          type: 'linear',
          reverse: true,
          min: p.yMin,
          max: p.yMax,
          grid: { display: false, drawTicks: false },
          border: { display: false },
          afterBuildTicks: (s: any) => { s.ticks = p.yTicks.map((v) => ({ value: v })); },
          afterFit: (s: any) => { s.width = p.chartLeft; },
          ticks: {
            autoSkip: false,
            padding: 4,
            color: '#000',
            font: { family: FONT, size: 16, weight: 'bold' },
            callback: (v: any) => Number(v).toFixed(2),
          },
        },
      },
    },
    plugins: [errorBarsPlugin, makeDecorPlugin(p)],
  };
}

const TOP_PANEL: PanelCfg = {
  sessions: P1_SESSIONS,
  fitPhase: P1_FIT_PHASE,
  fitMag: P1_FIT_MAG,
  yMin: 15.4275,
  yMax: 16.155,
  yTicks: P1_Y_TICKS,
  canvasH: 446,
  chartLeft: 76,
  chartRight: 648,
  chartTop: 7,
  chartBottom: 422,
  legendLeft: 89,
  yTitleCenter: 199,
  title: '(29606) 1998 QN94',
  subtitle: 'Period: 2.8965 ± 0.0001 h  Amp: 0.17',
  tag: 'P1',
};

const BOTTOM_PANEL: PanelCfg = {
  sessions: P2_SESSIONS,
  fitPhase: P2_FIT_PHASE,
  fitMag: P2_FIT_MAG,
  yMin: 1.1334,
  yMax: 1.865,
  yTicks: P2_Y_TICKS,
  canvasH: 444,
  chartLeft: 67,
  chartRight: 647,
  chartTop: 8,
  chartBottom: 422,
  legendLeft: 78.5,
  yTitleCenter: 202,
  title: '(29606) 1998 QN94',
  subtitle: 'Period: 19.666 ± 0.004 h  Amp: 0.21',
  tag: 'P2',
  jdo: 'JDo(LTC): 2459701.648683',
};

export default function App() {
  const topRef = useRef<HTMLCanvasElement>(null);
  const botRef = useRef<HTMLCanvasElement>(null);
  useEffect(() => {
    const c1 = new Chart(topRef.current as HTMLCanvasElement, makeConfig(TOP_PANEL));
    const c2 = new Chart(botRef.current as HTMLCanvasElement, makeConfig(BOTTOM_PANEL));
    return () => {
      c1.destroy();
      c2.destroy();
    };
  }, []);
  return (
    <div style={{ position: 'absolute', left: 0, top: 0, width: 642, height: 890, overflow: 'hidden', background: '#fff' }}>
      <canvas ref={topRef} width={CANVAS_W} height={446} style={{ position: 'absolute', left: 0, top: 0, width: CANVAS_W, height: 446 }} />
      <canvas ref={botRef} width={CANVAS_W} height={444} style={{ position: 'absolute', left: 0, top: 446, width: CANVAS_W, height: 444 }} />
    </div>
  );
}
